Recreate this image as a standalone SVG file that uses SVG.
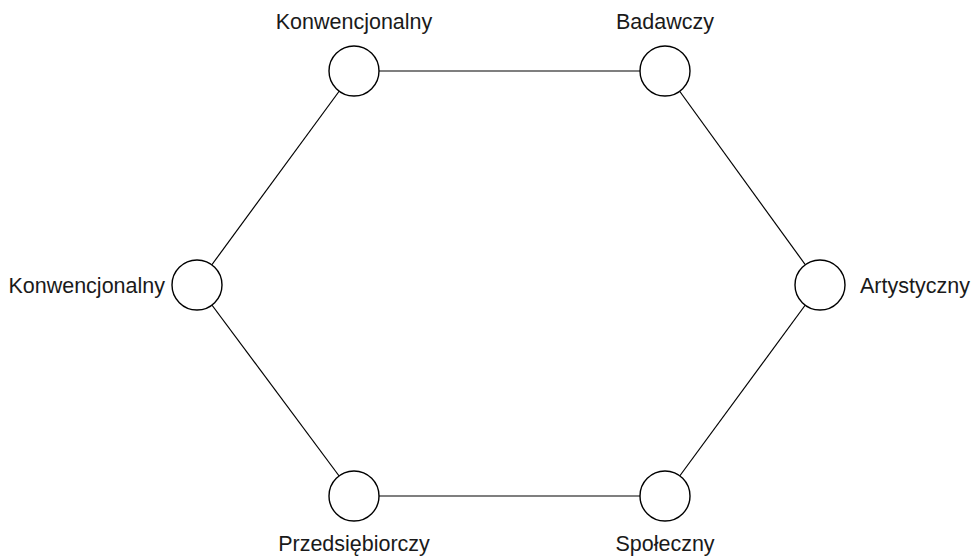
<svg xmlns="http://www.w3.org/2000/svg" width="973" height="557" viewBox="0 0 973 557">
<style>
.n{fill:#fff;stroke:#000;stroke-width:1.4}
.e{stroke:#000;stroke-width:1.2;fill:none}
text{font-family:"Liberation Sans",Arial,sans-serif;font-size:21.5px;fill:#1a1a1a}
</style>
<rect width="973" height="557" fill="#fff"/>
<g id="connectors">
<line class="e" x1="354" y1="71" x2="665" y2="71"/>
<line class="e" x1="665" y1="71" x2="820" y2="285"/>
<line class="e" x1="820" y1="285" x2="665" y2="496"/>
<line class="e" x1="665" y1="496" x2="354" y2="496"/>
<line class="e" x1="354" y1="496" x2="197" y2="285"/>
<line class="e" x1="197" y1="285" x2="354" y2="71"/>
</g>
<g id="n-konw-top"><circle class="n" cx="354" cy="71" r="25"/><text x="354" y="29" text-anchor="middle">Konwencjonalny</text></g>
<g id="n-badawczy"><circle class="n" cx="665" cy="71" r="25"/><text x="665" y="29" text-anchor="middle">Badawczy</text></g>
<g id="n-artystyczny"><circle class="n" cx="820" cy="285" r="25"/><text x="860" y="293">Artystyczny</text></g>
<g id="n-spoleczny"><circle class="n" cx="665" cy="496" r="25"/><text x="665" y="551" text-anchor="middle">Społeczny</text></g>
<g id="n-przeds"><circle class="n" cx="354" cy="496" r="25"/><text x="354" y="551" text-anchor="middle">Przedsiębiorczy</text></g>
<g id="n-konw-left"><circle class="n" cx="197" cy="285" r="25"/><text x="165" y="293" text-anchor="end">Konwencjonalny</text></g>
</svg>
